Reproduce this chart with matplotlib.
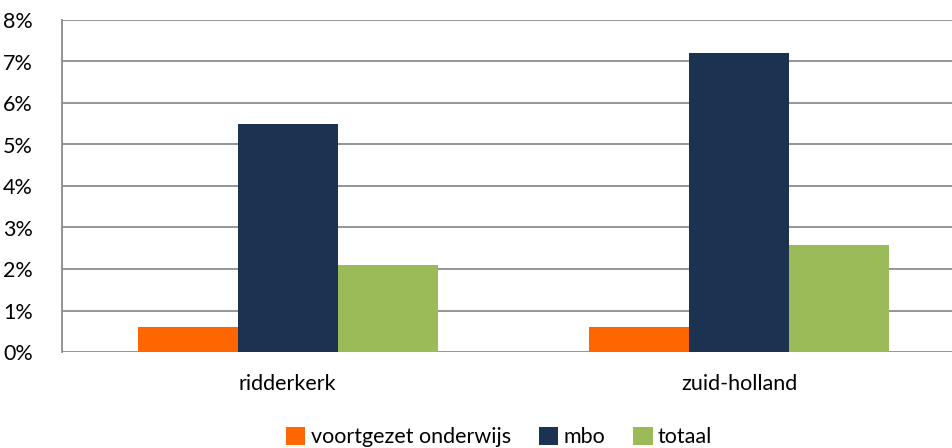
import matplotlib
matplotlib.use("Agg")
import matplotlib.pyplot as plt
import numpy as np
from matplotlib.ticker import FuncFormatter

categories = ["ridderkerk", "zuid-holland"]
series_names = ["voortgezet onderwijs", "mbo", "totaal"]
vo = [0.6, 0.6]
mbo = [5.5, 7.2]
totaal = [2.1, 2.57]
colors = ["#FF6600", "#1B3250", "#9BBB59"]
yticks = [0, 1, 2, 3, 4, 5, 6, 7, 8]

plt.rcParams['font.family'] = ['Lato', 'DejaVu Sans']

fig = plt.figure(figsize=(9.52, 4.48), dpi=100)
ax = fig.add_axes([62/952, 96/448, 903/952, 332/448])

x = np.arange(len(categories))
w = 100/451.5
for i, (vals, name, c) in enumerate(zip([vo, mbo, totaal], series_names, colors)):
    ax.bar(x + (i - 1) * w, vals, width=w, color=c, label=name, zorder=3)

ax.set_xlim(-0.5, 1.5)
ax.set_ylim(0, 8)
ax.set_yticks(yticks)
ax.yaxis.set_major_formatter(FuncFormatter(lambda v, p: f"{int(v)}%"))
ax.grid(axis='y', color='#8C8C8C', linewidth=1.3, zorder=0)
ax.set_xticks(x)
ax.set_xticklabels(categories)
ax.tick_params(axis='both', length=0, labelsize=15.5, colors='black')
ax.tick_params(axis='x', pad=16)
ax.tick_params(axis='y', pad=21)
for s in ['top', 'right', 'bottom']:
    ax.spines[s].set_visible(False)
ax.spines['left'].set_color('#8C8C8C')
ax.spines['left'].set_linewidth(1.3)

handles, labels = ax.get_legend_handles_labels()
fig.legend(handles, labels, loc='center', bbox_to_anchor=(499/952, 1 - 437/448),
           ncol=3, frameon=False, fontsize=15.5, handlelength=0.9, handleheight=0.9,
           handletextpad=0.25, columnspacing=1.3, borderpad=0)

fig.savefig("out.png", dpi=100)
